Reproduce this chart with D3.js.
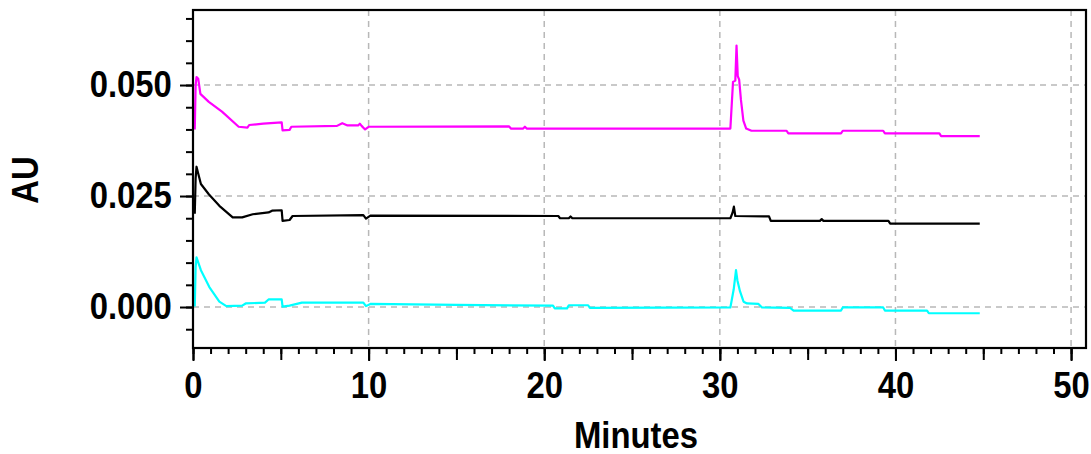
<!DOCTYPE html>
<html>
<head>
<meta charset="utf-8">
<script src="https://cdn.jsdelivr.net/npm/d3@7"></script>
<style>
  html, body { margin: 0; padding: 0; background: #fff; }
  svg { display: block; }
  text { font-family: "Liberation Sans", Arial, sans-serif; font-weight: bold; fill: #000; }
</style>
</head>
<body>
<svg id="chart" width="1091" height="454"></svg>
<script>
// ---- data (minutes, AU) ----
const magentaTrace = [
  [0.10, 0.0400], [0.15, 0.0500], [0.20, 0.0518], [0.30, 0.0514], [0.42, 0.0480], [0.90, 0.0462],
  [1.65, 0.0440], [2.60, 0.0406], [3.10, 0.0404], [3.20, 0.0410], [4.00, 0.0413], [5.05, 0.0416],
  [5.10, 0.0398], [5.50, 0.0399], [5.60, 0.0406], [8.20, 0.0408], [8.50, 0.0414], [8.80, 0.0409],
  [9.40, 0.0409], [9.50, 0.0413], [9.60, 0.0408], [9.80, 0.0400], [10.00, 0.0406], [18.00, 0.0407],
  [18.10, 0.0402], [18.80, 0.0402], [18.90, 0.0406], [19.00, 0.0402], [30.60, 0.0402], [30.75, 0.0507],
  [30.88, 0.0510], [30.95, 0.0589], [31.02, 0.0520], [31.10, 0.0512], [31.20, 0.0467], [31.34, 0.0420],
  [31.50, 0.0402], [31.80, 0.0397],
  [33.80, 0.0397], [33.90, 0.0391], [36.90, 0.0391], [37.00, 0.0397], [39.30, 0.0397], [39.40, 0.0391],
  [42.50, 0.0391], [42.60, 0.0385], [44.80, 0.0385]
];
const blackTrace = [
  [0.10, 0.0210], [0.15, 0.0290], [0.20, 0.0316], [0.30, 0.0300], [0.45, 0.0277], [0.90, 0.0254],
  [1.50, 0.0228], [2.26, 0.0202], [2.80, 0.0202], [3.40, 0.0209], [4.30, 0.0213], [4.50, 0.0217],
  [5.05, 0.0218], [5.10, 0.0194], [5.50, 0.0196], [5.67, 0.0205], [9.70, 0.0207], [9.85, 0.0199],
  [10.10, 0.0206], [20.80, 0.0205], [20.90, 0.0200], [21.40, 0.0200], [21.50, 0.0204], [21.60, 0.0200],
  [30.60, 0.0200], [30.72, 0.0212], [30.80, 0.0226], [30.88, 0.0205], [32.80, 0.0204], [32.90, 0.0194],
  [35.70, 0.0194], [35.80, 0.0198], [35.90, 0.0194], [39.60, 0.0194], [39.70, 0.0188], [44.80, 0.0188]
];
const cyanTrace = [
  [0.10, 0.0001], [0.15, 0.0090], [0.20, 0.0112], [0.45, 0.0083], [0.93, 0.0045], [1.50, 0.0012],
  [1.90, 0.0002], [2.80, 0.0003], [3.00, 0.0008], [4.10, 0.0010], [4.30, 0.0017], [5.05, 0.0017],
  [5.10, 0.0001], [5.50, 0.0003], [6.20, 0.0010], [9.70, 0.0010], [9.85, 0.0002], [10.10, 0.0007],
  [15.00, 0.0005], [20.50, 0.0003], [20.60, -0.0003], [21.30, -0.0003], [21.40, 0.0004], [22.50, 0.0004],
  [22.60, -0.0002], [30.60, -0.0001], [30.79, 0.0040], [30.92, 0.0083], [31.00, 0.0060], [31.15, 0.0035],
  [31.35, 0.0012], [31.55, 0.0008], [32.20, 0.0007], [32.40, -0.0001], [34.00, -0.0002], [34.20, -0.0008],
  [36.90, -0.0008], [37.00, -0.0001], [39.30, -0.0001],
  [39.40, -0.0008], [41.80, -0.0008], [41.90, -0.0014], [44.80, -0.0014]
];
const seriesColors = ["#ff00ff", "#000000", "#00ffff"];
const xLabelTicks = [0, 10, 20, 30, 40, 50];
const yLabelTicks = [0.000, 0.025, 0.050];
const xTitle = "Minutes";
const yTitle = "AU";

// ---- layout ----
const svg = d3.select("#chart");
const plotL = 193, plotR = 1086, plotT = 10, plotB = 348;
const fontSize = 36.5;
const x = d3.scaleLinear().domain([0, 50.85]).range([plotL, plotR]);
const y = d3.scaleLinear().domain([-0.00923, 0.0669]).range([plotB, plotT]);

// grid
const grid = svg.append("g").attr("stroke", "#b8b8b8").attr("stroke-width", 1.5).attr("stroke-dasharray", "6,5");
grid.selectAll("line.vx").data(xLabelTicks.filter(d => d > 0)).join("line")
  .attr("x1", d => x(d)).attr("x2", d => x(d)).attr("y1", plotT).attr("y2", plotB);
grid.selectAll("line.hy").data(yLabelTicks).join("line")
  .attr("x1", plotL).attr("x2", plotR).attr("y1", d => y(d)).attr("y2", d => y(d));

// traces
const line = d3.line().x(d => x(d[0])).y(d => y(d[1]));
[magentaTrace, blackTrace, cyanTrace].forEach((tr, i) => {
  svg.append("path").datum(tr).attr("d", line)
    .attr("fill", "none").attr("stroke", seriesColors[i]).attr("stroke-width", 2.2)
    .attr("stroke-linejoin", "round");
});

// x axes
function styleAxis(g) {
  g.select(".domain").remove();
  g.selectAll(".tick line").attr("stroke", "#000").attr("stroke-width", 2);
}
svg.append("g").attr("transform", `translate(0,${plotB})`)
  .call(d3.axisBottom(x).tickValues(d3.range(0, 51, 1)).tickSize(6).tickFormat(""))
  .call(styleAxis);
svg.append("g").attr("transform", `translate(0,${plotB})`)
  .call(d3.axisBottom(x).tickValues(d3.range(0, 51, 5)).tickSize(12).tickFormat(""))
  .call(styleAxis);
const xa = svg.append("g").attr("transform", `translate(0,${plotB})`)
  .call(d3.axisBottom(x).tickValues(xLabelTicks).tickSize(13).tickPadding(11).tickFormat(d3.format("d")))
  .call(styleAxis);
xa.selectAll("text").attr("font-size", fontSize).attr("font-family", "Liberation Sans, Arial, sans-serif")
  .attr("font-weight", "bold").attr("transform", "scale(0.9,1)");

// y axes
const yMinor = d3.range(-0.005, 0.0651, 0.005);
svg.append("g").attr("transform", `translate(${plotL},0)`)
  .call(d3.axisLeft(y).tickValues(yMinor).tickSize(7).tickFormat(""))
  .call(styleAxis);
const ya = svg.append("g").attr("transform", `translate(${plotL},0)`)
  .call(d3.axisLeft(y).tickValues(yLabelTicks).tickSize(13).tickPadding(10.5).tickFormat(d3.format(".3f")))
  .call(styleAxis);
ya.selectAll("text").attr("font-size", fontSize).attr("font-family", "Liberation Sans, Arial, sans-serif")
  .attr("font-weight", "bold").attr("transform", "scale(0.9,1)");

// frame
svg.append("rect").attr("x", plotL).attr("y", plotT).attr("width", plotR - plotL).attr("height", plotB - plotT)
  .attr("fill", "none").attr("stroke", "#000").attr("stroke-width", 2.2);

// titles
svg.append("text").attr("transform", "translate(636,448) scale(0.9,1)")
  .attr("text-anchor", "middle").attr("font-size", fontSize).text(xTitle);
svg.append("text").attr("transform", "translate(38,180) rotate(-90) scale(0.9,1)")
  .attr("text-anchor", "middle").attr("font-size", fontSize).text(yTitle);
</script>
</body>
</html>
